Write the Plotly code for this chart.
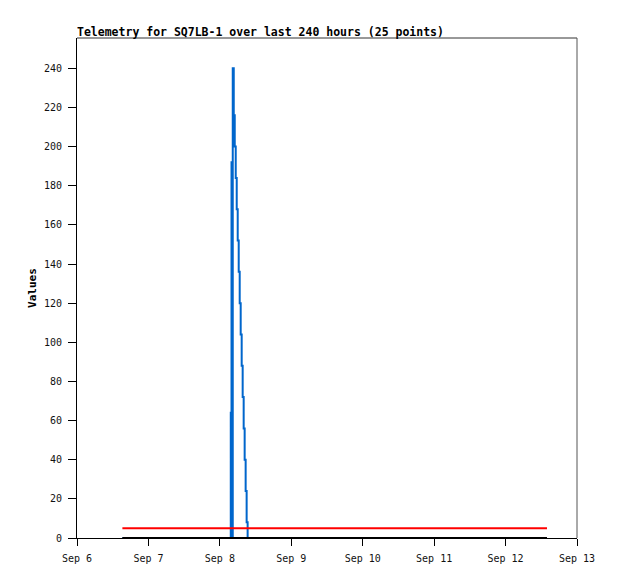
import plotly.graph_objects as go

# ---- data ----
blue_times = [
    "2023-09-06 15:15", "2023-09-07 09:00", "2023-09-07 20:00",
    "2023-09-08 03:00", "2023-09-08 03:40", "2023-09-08 03:55",
    "2023-09-08 04:05", "2023-09-08 04:20", "2023-09-08 04:40",
    "2023-09-08 05:00", "2023-09-08 05:20", "2023-09-08 05:40",
    "2023-09-08 06:00", "2023-09-08 06:20", "2023-09-08 06:40",
    "2023-09-08 07:00", "2023-09-08 07:20", "2023-09-08 07:40",
    "2023-09-08 08:00", "2023-09-08 08:20", "2023-09-08 08:40",
    "2023-09-08 09:00", "2023-09-08 09:20", "2023-09-10 12:00",
    "2023-09-12 13:55",
]
blue_values = [0, 0, 0, 0, 64, 192, 0, 240, 216, 200, 184, 168, 152, 136,
               120, 104, 88, 72, 56, 40, 24, 8, 0, 0, 0]

limit_times = ["2023-09-06 15:15", "2023-09-12 13:55"]
red_values = [5, 5]
black_values = [0, 0]

x_ticks = ["2023-09-06", "2023-09-07", "2023-09-08", "2023-09-09",
           "2023-09-10", "2023-09-11", "2023-09-12", "2023-09-13"]
x_tick_labels = ["Sep 6", "Sep 7", "Sep 8", "Sep 9", "Sep 10", "Sep 11",
                 "Sep 12", "Sep 13"]
y_ticks = list(range(0, 241, 20))

title_text = "Telemetry for SQ7LB-1 over last 240 hours (25 points)"

fig = go.Figure()
fig.add_trace(go.Scatter(x=blue_times, y=blue_values, mode="lines",
                         line=dict(color="#0066CC", width=2, shape="hv"),
                         showlegend=False))
fig.add_trace(go.Scatter(x=limit_times, y=red_values, mode="lines",
                         line=dict(color="#FF0000", width=2), showlegend=False))
fig.add_trace(go.Scatter(x=limit_times, y=black_values, mode="lines",
                         line=dict(color="#000000", width=2), showlegend=False))

mono = "DejaVu Sans Mono"
fig.update_layout(
    width=602, height=563,
    margin=dict(l=69, r=33, t=30, b=33),
    paper_bgcolor="white", plot_bgcolor="white",
    font=dict(family=mono, size=10, color="black"),
    xaxis=dict(
        type="date", range=["2023-09-06", "2023-09-13"],
        tickvals=x_ticks, ticktext=x_tick_labels,
        ticks="outside", ticklen=7, tickcolor="black", tickwidth=1,
        ticklabelstandoff=4, automargin=False,
        showgrid=False, zeroline=False,
        showline=True, linecolor="black", linewidth=1,
        tickfont=dict(family=mono, size=10, color="#111111"),
    ),
    yaxis=dict(
        range=[0, 255.5], tickvals=y_ticks,
        ticks="outside", ticklen=8, tickcolor="black", tickwidth=1,
        ticklabelstandoff=4,
        showgrid=False, zeroline=False,
        showline=True, linecolor="black", linewidth=1,
        tickfont=dict(family=mono, size=10, color="#111111"),
        title=dict(text="<b>Values</b>", font=dict(family=mono, size=11), standoff=5),
        automargin=False,
    ),
    shapes=[
        dict(type="line", xref="paper", yref="paper", x0=0, x1=1, y0=1, y1=1,
             line=dict(color="#333333", width=1)),
        dict(type="line", xref="paper", yref="paper", x0=1, x1=1, y0=0, y1=1,
             line=dict(color="#555555", width=1)),
    ],
    annotations=[
        dict(text="<b>" + title_text + "</b>", xref="paper", yref="paper",
             x=0, y=1, xanchor="left", yanchor="bottom", yshift=-3, xshift=-2,
             showarrow=False, font=dict(family=mono, size=11.5, color="black")),
    ],
)

fig.write_html("out.html")
